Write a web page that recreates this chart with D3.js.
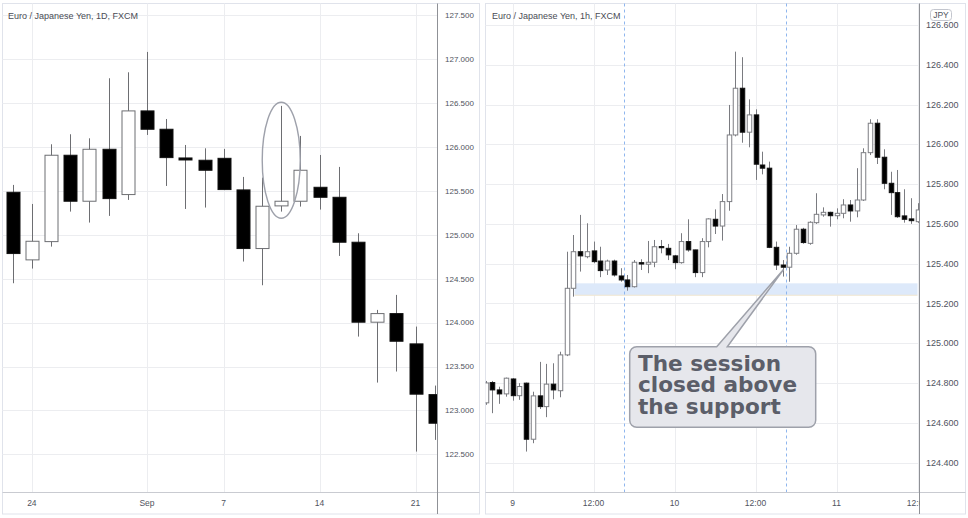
<!DOCTYPE html>
<html><head><meta charset="utf-8">
<script src="https://cdn.jsdelivr.net/npm/d3@7/dist/d3.min.js"></script>
<style>
body{margin:0;background:#fff;}
svg{display:block;}
</style></head><body>
<svg id="c" width="968" height="518"></svg>
<script>
// ---------- Daily EUR/JPY (index 0 = Aug 21) ----------
const dailyIndex = d3.range(23);
const dailyOpen  = [125.485,124.715,124.923,125.907,125.383,125.975,125.459,126.412,126.203,125.876,125.850,125.872,125.512,124.844,125.330,125.383,125.542,125.428,124.916,124.005,124.103,123.758,123.180];
const dailyHigh  = [125.569,125.352,126.032,126.146,126.100,126.784,126.852,127.084,126.320,126.024,125.986,125.979,125.660,125.652,126.469,126.127,125.910,125.774,125.018,124.145,124.316,123.955,123.283];
const dailyLow   = [124.449,124.616,124.866,125.265,125.140,125.216,125.398,126.138,125.557,125.295,125.311,125.510,124.696,124.426,125.265,125.322,125.288,124.760,123.841,123.317,123.443,122.531,122.664];
const dailyClose = [124.787,124.927,125.907,125.383,125.975,125.413,126.412,126.203,125.880,125.853,125.736,125.516,124.844,125.326,125.383,125.736,125.428,124.916,124.005,124.103,123.788,123.185,122.854];
const dailyTickIndex  = [1, 7, 11, 16, 21];
const dailyTickLabels = ["24", "Sep", "7", "14", "21"];
const dailyPriceTicks = [122.5,123,123.5,124,124.5,125,125.5,126,126.5,127,127.5];
const dailyHighlight  = [14, 125.19, 126.51]; // candle index, low, high of ellipse

// ---------- Hourly EUR/JPY (hours from Sep 9 00:00) ----------
const hourIndex = d3.range(-4, 61);
const hourOpen  = [124.700,124.802,124.765,124.745,124.820,124.736,124.799,124.517,124.735,124.681,124.794,124.761,124.941,125.276,125.460,125.435,125.464,125.413,125.368,125.413,125.338,125.318,125.284,125.405,125.397,125.407,125.486,125.477,125.439,125.405,125.511,125.469,125.355,125.511,125.623,125.589,125.712,126.047,126.282,126.061,126.148,125.896,125.880,125.482,125.393,125.382,125.452,125.573,125.502,125.606,125.645,125.658,125.641,125.653,125.695,125.665,125.720,125.958,126.106,125.935,125.804,125.757,125.640,125.625,125.611];
const hourHigh  = [124.810,124.810,124.781,124.827,124.824,124.799,124.802,124.756,124.906,124.896,124.899,124.957,125.460,125.544,125.645,125.603,125.511,125.485,125.420,125.420,125.377,125.343,125.418,125.422,125.514,125.519,125.519,125.499,125.444,125.553,125.623,125.470,125.528,125.628,125.673,125.750,126.198,126.466,126.438,126.226,126.176,125.963,125.913,125.511,125.418,125.485,125.594,125.580,125.613,125.754,125.683,125.661,125.678,125.724,125.720,125.880,125.980,126.126,126.126,125.975,125.862,125.871,125.774,125.729,125.704];
const hourLow   = [124.690,124.648,124.695,124.731,124.711,124.715,124.455,124.497,124.669,124.628,124.718,124.728,124.935,125.234,125.360,125.427,125.402,125.332,125.343,125.335,125.309,125.264,125.280,125.368,125.352,125.382,125.452,125.418,125.372,125.400,125.460,125.332,125.332,125.482,125.549,125.516,125.666,126.040,126.008,125.985,125.821,125.849,125.478,125.368,125.335,125.309,125.445,125.500,125.495,125.600,125.636,125.586,125.623,125.628,125.611,125.633,125.715,125.946,125.901,125.774,125.645,125.630,125.606,125.600,125.605];
const hourClose = [124.800,124.765,124.745,124.824,124.736,124.782,124.517,124.735,124.681,124.794,124.765,124.941,125.276,125.460,125.439,125.460,125.410,125.365,125.413,125.343,125.318,125.284,125.407,125.398,125.407,125.485,125.480,125.444,125.405,125.511,125.469,125.355,125.511,125.625,125.589,125.712,126.047,126.282,126.061,126.148,125.900,125.880,125.482,125.393,125.382,125.452,125.573,125.506,125.608,125.648,125.658,125.641,125.653,125.695,125.665,125.720,125.958,126.106,125.935,125.804,125.757,125.636,125.623,125.616,125.670];
const hourTickHours  = [0, 12, 24, 36, 48, 60];
const hourTickLabels = ["9", "12:00", "10", "12:00", "11", "12:00"];
const hourPriceTicks = [124.4,124.6,124.8,125.0,125.2,125.4,125.6,125.8,126.0,126.2,126.4,126.6];
const sessionBreaks  = [16.5, 40.5];
const supportZone    = [9.2, 60.0, 125.241, 125.301]; // start hour, end hour, low, high
const calloutTarget  = [40, 125.37];
const calloutLines   = ["The session", "closed above", "the support"];

// ---------- drawing ----------
const svg = d3.select("#c");
const gridColor = "#ecedf0", borderColor = "#e0e3eb", axisColor = "#8f9196", labelColor = "#50535e";
const fontFam = "'Liberation Sans', Arial, sans-serif";
const defs = svg.append("defs");

function panel(opt) {
  const {x0, x1, top, plotBottom, bottom, axisX, id} = opt;
  const g = svg.append("g");
  defs.append("clipPath").attr("id", id).append("rect")
    .attr("x", x0).attr("y", top).attr("width", axisX - x0).attr("height", plotBottom - top);
  g.append("rect").attr("x", x0).attr("y", top).attr("width", x1 - x0).attr("height", bottom - top)
    .attr("fill", "#fff").attr("stroke", borderColor).attr("stroke-width", 1);
  return g;
}

function drawCandles(g, data, xs, ys, w, clipId, wickCol, whiteStroke) {
  const cg = g.append("g").attr("clip-path", `url(#${clipId})`);
  const c = cg.selectAll("g.cd").data(data).enter().append("g");
  c.append("line")
    .attr("x1", d => Math.round(xs(d.t)) + 0.5).attr("x2", d => Math.round(xs(d.t)) + 0.5)
    .attr("y1", d => ys(d.h)).attr("y2", d => ys(d.l))
    .attr("stroke", wickCol).attr("stroke-width", 1);
  c.append("rect")
    .attr("x", d => Math.round(xs(d.t)) + 0.5 - w / 2)
    .attr("width", w)
    .attr("y", d => ys(Math.max(d.o, d.c)))
    .attr("height", d => Math.max(1, Math.abs(ys(d.o) - ys(d.c))))
    .attr("fill", d => d.c >= d.o ? "#ffffff" : "#000000")
    .attr("stroke", d => d.c >= d.o ? whiteStroke : "#111")
    .attr("stroke-width", 1);
  return cg;
}

function priceAxis(g, ys, ticks, x0, axisX, labelX, fs) {
  ticks.forEach(t => {
    g.append("line").attr("x1", x0).attr("x2", axisX).attr("y1", Math.round(ys(t)) + 0.5).attr("y2", Math.round(ys(t)) + 0.5)
      .attr("stroke", gridColor).attr("stroke-width", 1);
  });
  g.append("g").selectAll("text").data(ticks).enter().append("text")
    .attr("x", labelX).attr("y", d => ys(d)).attr("dy", "0.35em")
    .attr("font-family", fontFam).attr("font-size", fs).attr("fill", labelColor)
    .text(d => d3.format(".3f")(d));
}

// ===== Left panel =====
const L = {x0: 2.5, x1: 479.5, top: 3.5, plotBottom: 492.5, bottom: 514, axisX: 437.5, id: "clipL"};
const gL = panel(L);
const xL = d3.scaleLinear().domain([0, 21]).range([12.7, 415.5]);
const yL = d3.scaleLinear().domain([122.5, 127]).range([454.3, 59.3]);
dailyTickIndex.forEach(i => {
  gL.append("line").attr("x1", Math.round(xL(i)) + 0.5).attr("x2", Math.round(xL(i)) + 0.5)
    .attr("y1", L.top).attr("y2", L.plotBottom).attr("stroke", gridColor);
});
priceAxis(gL, yL, dailyPriceTicks, L.x0, L.axisX, 445, 8);
const dailyData = dailyIndex.map(i => ({t: i, o: dailyOpen[i], h: dailyHigh[i], l: dailyLow[i], c: dailyClose[i]}));
drawCandles(gL, dailyData, xL, yL, 13, "clipL", "#6d6e72", "#6d6e72");
gL.append("ellipse")
  .attr("cx", xL(dailyHighlight[0]))
  .attr("cy", (yL(dailyHighlight[1]) + yL(dailyHighlight[2])) / 2)
  .attr("rx", 19).attr("ry", (yL(dailyHighlight[1]) - yL(dailyHighlight[2])) / 2)
  .attr("fill", "none").attr("stroke", "#9ea1ab").attr("stroke-width", 1.4);
gL.append("line").attr("x1", L.x0).attr("x2", L.x1).attr("y1", L.plotBottom).attr("y2", L.plotBottom).attr("stroke", "#c9cbd1");
gL.append("line").attr("x1", L.axisX).attr("x2", L.axisX).attr("y1", L.top).attr("y2", L.bottom).attr("stroke", axisColor);
gL.selectAll("text.xt").data(dailyTickIndex).enter().append("text")
  .attr("x", d => xL(d)).attr("y", 506).attr("text-anchor", "middle")
  .attr("font-family", fontFam).attr("font-size", 8.5).attr("fill", labelColor)
  .text((d, i) => dailyTickLabels[i]);
gL.append("text").attr("x", 8).attr("y", 19).attr("font-family", fontFam).attr("font-size", 9)
  .attr("fill", "#4a4c55").text("Euro / Japanese Yen, 1D, FXCM");

// ===== Right panel =====
const R = {x0: 485.5, x1: 965.5, top: 3.5, plotBottom: 492.5, bottom: 514, axisX: 919.5, id: "clipR"};
const gR = panel(R);
const xR = d3.scaleLinear().domain([0, 24]).range([512.5, 674.5]);
const yR = d3.scaleLinear().domain([124.4, 126.6]).range([462.5, 25]);
hourTickHours.forEach(h => {
  gR.append("line").attr("x1", Math.round(xR(h)) + 0.5).attr("x2", Math.round(xR(h)) + 0.5)
    .attr("y1", R.top).attr("y2", R.plotBottom).attr("stroke", gridColor);
});
priceAxis(gR, yR, hourPriceTicks, R.x0, R.axisX, 926, 9);
gR.append("rect").attr("clip-path", "url(#clipR)")
  .attr("x", xR(supportZone[0])).attr("width", xR(supportZone[1]) - xR(supportZone[0]))
  .attr("y", yR(supportZone[3])).attr("height", yR(supportZone[2]) - yR(supportZone[3]))
  .attr("fill", "#dde9fa");
gR.append("line")
  .attr("x1", xR(supportZone[0])).attr("x2", xR(supportZone[1]))
  .attr("y1", yR(supportZone[2])).attr("y2", yR(supportZone[2]))
  .attr("stroke", "#f1e6cf").attr("stroke-width", 1);
sessionBreaks.forEach(h => {
  gR.append("line").attr("x1", Math.round(xR(h)) + 0.5).attr("x2", Math.round(xR(h)) + 0.5)
    .attr("y1", R.top).attr("y2", R.plotBottom)
    .attr("stroke", "#8fb6ee").attr("stroke-width", 1).attr("stroke-dasharray", "3,3");
});
const hourData = hourIndex.map((h, i) => ({t: h, o: hourOpen[i], h: hourHigh[i], l: hourLow[i], c: hourClose[i]}));
drawCandles(gR, hourData, xR, yR, 4.5, "clipR", "#7a7b80", "#7d7e83");
gR.append("line").attr("x1", R.x0).attr("x2", R.x1).attr("y1", R.plotBottom).attr("y2", R.plotBottom).attr("stroke", "#c9cbd1");
gR.append("line").attr("x1", R.axisX).attr("x2", R.axisX).attr("y1", R.top).attr("y2", R.bottom).attr("stroke", axisColor);
defs.append("clipPath").attr("id", "clipRX").append("rect").attr("x", R.x0).attr("y", 493).attr("width", R.axisX - R.x0).attr("height", 20);
gR.append("g").attr("clip-path", "url(#clipRX)").selectAll("text").data(hourTickHours).enter().append("text")
  .attr("x", d => xR(d)).attr("y", 506).attr("text-anchor", "middle")
  .attr("font-family", fontFam).attr("font-size", 8.5).attr("fill", labelColor)
  .text((d, i) => hourTickLabels[i]);
gR.append("text").attr("x", 492).attr("y", 19).attr("font-family", fontFam).attr("font-size", 9)
  .attr("fill", "#4a4c55").text("Euro / Japanese Yen, 1h, FXCM");
gR.append("rect").attr("x", 930.5).attr("y", 9.5).attr("width", 21).attr("height", 11).attr("rx", 3)
  .attr("fill", "#fff").attr("stroke", "#c3c6ce");
gR.append("text").attr("x", 941).attr("y", 18).attr("text-anchor", "middle")
  .attr("font-family", fontFam).attr("font-size", 8.5).attr("fill", labelColor).text("JPY");

// ===== Callout =====
const bx0 = 629.7, bx1 = 815.7, by0 = 346.7, by1 = 427.3, rr = 7;
const tipX = xR(calloutTarget[0]) + 1, tipY = yR(calloutTarget[1]);
const tail0 = 716.7, tail1 = 727.3;
const p = d3.path();
p.moveTo(bx0 + rr, by0);
p.lineTo(tail0, by0);
p.lineTo(tipX, tipY);
p.lineTo(tail1, by0);
p.lineTo(bx1 - rr, by0);
p.arcTo(bx1, by0, bx1, by0 + rr, rr);
p.lineTo(bx1, by1 - rr);
p.arcTo(bx1, by1, bx1 - rr, by1, rr);
p.lineTo(bx0 + rr, by1);
p.arcTo(bx0, by1, bx0, by1 - rr, rr);
p.lineTo(bx0, by0 + rr);
p.arcTo(bx0, by0, bx0 + rr, by0, rr);
p.closePath();
svg.append("path").attr("d", p.toString()).attr("fill", "#e6e7ec").attr("stroke", "#9ea1aa").attr("stroke-width", 1.5);
svg.append("g").selectAll("text").data(calloutLines).enter().append("text")
  .attr("x", 638).attr("y", (d, i) => 370.7 + i * 21.7)
  .attr("font-family", "'DejaVu Sans', Verdana, sans-serif").attr("font-weight", "bold")
  .attr("font-size", 21.6).attr("fill", "#5b5e69").text(d => d);
</script>
</body></html>
